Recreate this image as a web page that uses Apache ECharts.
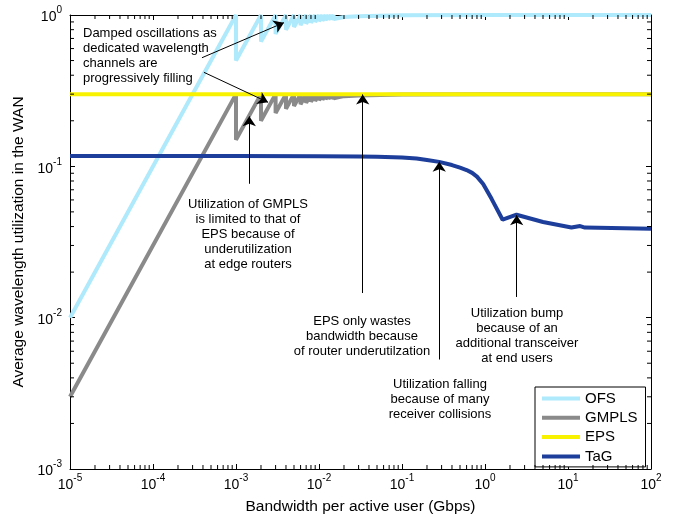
<!DOCTYPE html>
<html><head><meta charset="utf-8">
<script src="https://cdn.jsdelivr.net/npm/echarts@6/dist/echarts.min.js"></script>
<style>html,body{margin:0;padding:0;background:#fff}#c{width:685px;height:520px}</style>
</head><body><div id="c"></div>
<script>
// ---------- data ----------
const seriesNames = ['OFS', 'GMPLS', 'EPS', 'TaG'];
const ofsX = [1e-5, 1e-3, 1e-3, 2e-3, 2e-3, 3e-3, 3e-3, 4e-3, 4e-3, 5e-3, 5e-3, 6e-3, 6e-3, 7e-3, 7e-3, 8e-3, 8e-3, 9e-3, 9e-3, 1e-2, 1e-2, 1.1e-2, 1.1e-2, 1.2e-2, 1.2e-2, 1.3e-2, 1.3e-2, 1.4e-2, 1.4e-2, 1.5e-2, 1.5e-2, 2e-2, 3e-2, 1e-1, 1, 1e2];
const ofsY = [0.01, 1, 0.5, 1, 0.667, 1, 0.75, 1, 0.8, 1, 0.833, 1, 0.857, 1, 0.875, 1, 0.889, 1, 0.9, 1, 0.909, 1, 0.917, 1, 0.923, 1, 0.929, 1, 0.933, 1, 0.94, 0.97, 0.98, 0.995, 1, 1];
const gmplsX = [1e-5, 1e-3, 1e-3, 2e-3, 2e-3, 3e-3, 3e-3, 4e-3, 4e-3, 5e-3, 5e-3, 6e-3, 6e-3, 7e-3, 7e-3, 8e-3, 8e-3, 9e-3, 9e-3, 1e-2, 1e-2, 1.1e-2, 1.1e-2, 1.2e-2, 1.2e-2, 1.3e-2, 1.3e-2, 1.4e-2, 1.4e-2, 1.5e-2, 1.5e-2, 2e-2, 3e-2, 1e-1, 1, 1e2];
const gmplsY = [0.003, 0.3, 0.15, 0.3, 0.2, 0.3, 0.225, 0.3, 0.24, 0.3, 0.25, 0.3, 0.257, 0.3, 0.2625, 0.3, 0.267, 0.3, 0.27, 0.3, 0.273, 0.3, 0.275, 0.3, 0.277, 0.3, 0.279, 0.3, 0.28, 0.3, 0.282, 0.291, 0.294, 0.2985, 0.3, 0.3];
const epsX = [1e-5, 1e2];
const epsY = [0.3, 0.3];
const tagX = [1e-5, 1e-3, 1e-2, 3e-2, 0.05, 0.1, 0.15, 0.2, 0.28, 0.4, 0.5, 0.6, 0.7, 0.8, 0.95, 1.2, 1.63, 2.4, 5, 11, 14, 16, 100];
const tagY = [0.117, 0.117, 0.1168, 0.1163, 0.1158, 0.1145, 0.1125, 0.110, 0.107, 0.102, 0.098, 0.0945, 0.0905, 0.0855, 0.0765, 0.061, 0.0444, 0.0479, 0.0429, 0.0394, 0.0403, 0.0394, 0.0387];
const xTickExps = [-5, -4, -3, -2, -1, 0, 1, 2];
const yTickExps = [-3, -2, -1, 0];
const xTitle = 'Bandwidth per active user (Gbps)';
const yTitle = 'Average wavelength utilization in the WAN';
const noteTexts = [
  'Damped oscillations as\ndedicated wavelength\nchannels are\nprogressively filling',
  'Utilization of GMPLS\nis limited to that of\nEPS because of\nunderutilization\nat edge routers',
  'EPS only wastes\nbandwidth because\nof router underutilzation',
  'Utilization falling\nbecause of many\nreceiver collisions',
  'Utilization bump\nbecause of an\nadditional transceiver\nat end users'
];
// arrows: [fromX, fromY, toX, toY] in data units
const arrowCoords = [
  [3.89e-4, 0.522, 3.78e-3, 0.89],
  [4.11e-4, 0.418, 2.43e-3, 0.265],
  [1.445e-3, 0.0767, 1.445e-3, 0.214],
  [0.0336, 0.01455, 0.0336, 0.2985],
  [0.281, 0.00529, 0.281, 0.1074],
  [2.41, 0.0137, 2.41, 0.0475]
];

// ---------- styling ----------
const FONT = "'Liberation Sans', Arial, Helvetica, sans-serif";
const colors = ['#aee9fc', '#8a8a8a', '#f8f200', '#1d3e9a'];
const zip = (xs, ys) => xs.map((x, i) => [x, ys[i]]);
const seriesData = [zip(ofsX, ofsY), zip(gmplsX, gmplsY), zip(epsX, epsY), zip(tagX, tagY)];

const rich = {
  b: { fontSize: 14, fontFamily: FONT, color: '#000', lineHeight: 19, verticalAlign: 'bottom' },
  s: { fontSize: 10, fontFamily: FONT, color: '#000', lineHeight: 11, verticalAlign: 'top' }
};
function fmt(exps) {
  return function (v) {
    const e = Math.round(Math.log10(v));
    if (exps.indexOf(e) < 0) return '';
    return '{b|10}{s|' + e + '}';
  };
}
const XMIN = 1e-5, XMAX = 1e2, YMIN = 1e-3, YMAX = 1;
function baseAxis(min, max) {
  return {
    type: 'log', logBase: 10, min: min, max: max,
    axisLine: { show: true, onZero: false, lineStyle: { color: '#000', width: 1 } },
    axisTick: { show: true, inside: true, length: 5, lineStyle: { color: '#000', width: 1 } },
    splitLine: { show: false },
    minorTick: { show: false }
  };
}
const minorX = [], minorY = [];
for (let e = -5; e < 2; e++) for (let m = 2; m <= 9; m++) minorX.push(m * Math.pow(10, e));
for (let e = -3; e < 0; e++) for (let m = 2; m <= 9; m++) minorY.push(m * Math.pow(10, e));
const ML = 4;

const chart = echarts.init(document.getElementById('c'), null, { renderer: 'canvas' });
const option = {
  animation: false,
  backgroundColor: '#fff',
  grid: { left: 70, right: 34, top: 15, bottom: 48, containLabel: false },
  xAxis: [
    Object.assign(baseAxis(XMIN, XMAX), {
      position: 'bottom',
      name: xTitle, nameLocation: 'middle', nameGap: 30,
      nameTextStyle: { fontFamily: FONT, fontSize: 15.5, color: '#000' },
      axisLabel: { margin: 4, formatter: fmt(xTickExps), rich: rich }
    }),
    Object.assign(baseAxis(XMIN, XMAX), { position: 'top', axisLabel: { show: false } })
  ],
  yAxis: [
    Object.assign(baseAxis(YMIN, YMAX), {
      position: 'left',
      name: yTitle, nameLocation: 'middle', nameGap: 38,
      nameTextStyle: { fontFamily: FONT, fontSize: 15.5, color: '#000' },
      axisLabel: { margin: 8, formatter: fmt(yTickExps), rich: rich }
    }),
    Object.assign(baseAxis(YMIN, YMAX), { position: 'right', axisLabel: { show: false } })
  ],
  legend: {
    data: seriesNames,
    orient: 'vertical', left: 535, top: 387,
    backgroundColor: '#fff', borderColor: '#000', borderWidth: 1, borderRadius: 0,
    padding: [4, 8, 3, 7], itemGap: 4.3,
    icon: 'rect', itemWidth: 38, itemHeight: 4,
    textStyle: { fontFamily: FONT, fontSize: 15, color: '#000', lineHeight: 15 },
    selectedMode: false
  },
  series: seriesNames.map((n, i) => ({
    name: n, type: 'line', data: seriesData[i],
    xAxisIndex: 0, yAxisIndex: 0,
    showSymbol: false, symbol: 'none', smooth: false,
    lineStyle: { color: colors[i], width: 4 },
    itemStyle: { color: colors[i] },
    z: 2 + i, silent: true
  })).concat([
    {
      type: 'lines', coordinateSystem: 'cartesian2d', xAxisIndex: 0, yAxisIndex: 0,
      symbol: ['none', 'arrow'], symbolSize: 10, silent: true, z: 10,
      lineStyle: { color: '#000', width: 1, opacity: 1, curveness: 0 },
      data: arrowCoords.map(a => ({ coords: [[a[0], a[1]], [a[2], a[3]]] }))
    },
    {
      type: 'custom', xAxisIndex: 0, yAxisIndex: 0, silent: true, clip: false, z: 20,
      data: minorX.map(v => [v, 0.01]),
      renderItem: function (params, api) {
        const v = api.value(0);
        const b = api.coord([v, YMIN]);
        const t = api.coord([v, YMAX]);
        return { type: 'group', children: [
          { type: 'line', shape: { x1: b[0], y1: b[1], x2: b[0], y2: b[1] - ML }, style: { stroke: '#000', lineWidth: 1 } },
          { type: 'line', shape: { x1: t[0], y1: t[1], x2: t[0], y2: t[1] + ML }, style: { stroke: '#000', lineWidth: 1 } }
        ] };
      }
    },
    {
      type: 'custom', xAxisIndex: 0, yAxisIndex: 0, silent: true, clip: false, z: 20,
      data: minorY.map(v => [0.001, v]),
      renderItem: function (params, api) {
        const v = api.value(1);
        const l = api.coord([XMIN, v]);
        const r = api.coord([XMAX, v]);
        return { type: 'group', children: [
          { type: 'line', shape: { x1: l[0], y1: l[1], x2: l[0] + ML, y2: l[1] }, style: { stroke: '#000', lineWidth: 1 } },
          { type: 'line', shape: { x1: r[0], y1: r[1], x2: r[0] - ML, y2: r[1] }, style: { stroke: '#000', lineWidth: 1 } }
        ] };
      }
    }
  ]),
  graphic: [
    { type: 'text', x: 83, y: 25.5, z: 30, style: { text: noteTexts[0], fill: '#000', font: '13px ' + FONT, lineHeight: 15, align: 'left', verticalAlign: 'top' } },
    { type: 'text', x: 248, y: 196.5, z: 30, style: { text: noteTexts[1], fill: '#000', font: '13px ' + FONT, lineHeight: 15, align: 'center', verticalAlign: 'top' } },
    { type: 'text', x: 362, y: 313.5, z: 30, style: { text: noteTexts[2], fill: '#000', font: '13px ' + FONT, lineHeight: 15, align: 'center', verticalAlign: 'top' } },
    { type: 'text', x: 440, y: 376.5, z: 30, style: { text: noteTexts[3], fill: '#000', font: '13px ' + FONT, lineHeight: 15, align: 'center', verticalAlign: 'top' } },
    { type: 'text', x: 517, y: 305.5, z: 30, style: { text: noteTexts[4], fill: '#000', font: '13px ' + FONT, lineHeight: 15, align: 'center', verticalAlign: 'top' } }
  ]
};
chart.setOption(option);
</script>
</body></html>
